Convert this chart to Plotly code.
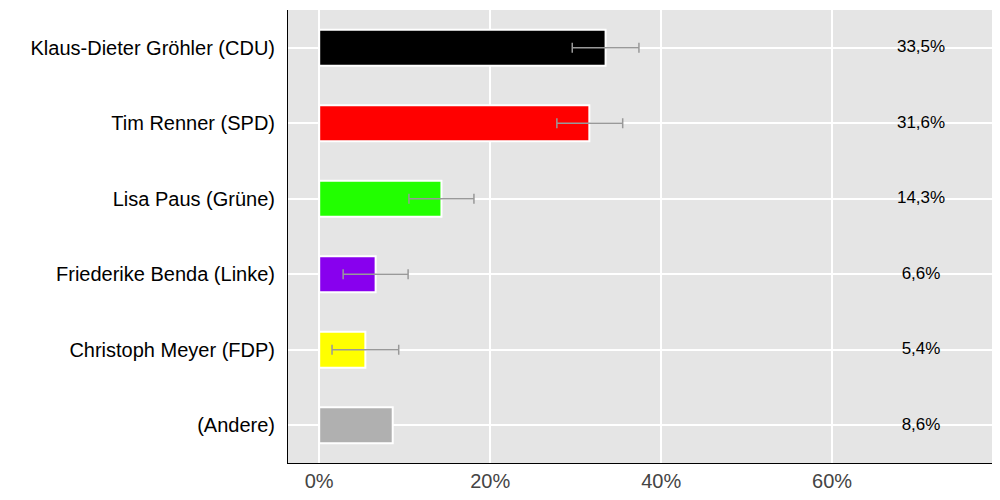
import plotly.graph_objects as go

candidates = ["Klaus-Dieter Gröhler (CDU)", "Tim Renner (SPD)", "Lisa Paus (Grüne)",
              "Friederike Benda (Linke)", "Christoph Meyer (FDP)", "(Andere)"]
values = [33.5, 31.6, 14.3, 6.6, 5.4, 8.6]
err_low = [29.6, 27.8, 10.5, 2.8, 1.5, None]
err_high = [37.4, 35.5, 18.1, 10.4, 9.3, None]
colors = ["#000000", "#ff0000", "#22ff00", "#8800ee", "#ffff00", "#b0b0b0"]
labels = ["33,5%", "31,6%", "14,3%", "6,6%", "5,4%", "8,6%"]

plus = [(h - v) if h is not None else 0 for h, v in zip(err_high, values)]
minus = [(v - l) if l is not None else 0 for l, v in zip(err_low, values)]
has_err = [h is not None for h in err_high]

fig = go.Figure()
fig.add_trace(go.Bar(
    y=candidates, x=values, orientation="h", width=0.48,
    marker=dict(color=colors, line=dict(color="white", width=2)),
    hoverinfo="skip"))
fig.add_trace(go.Scatter(
    y=[c for c, e in zip(candidates, has_err) if e],
    x=[v for v, e in zip(values, has_err) if e],
    mode="markers", marker=dict(size=0.1, color="rgba(0,0,0,0)"),
    error_x=dict(type="data", symmetric=False,
                 array=[p for p, e in zip(plus, has_err) if e],
                 arrayminus=[m for m, e in zip(minus, has_err) if e],
                 color="#999999", thickness=1.5, width=5),
    hoverinfo="skip"))
fig.add_trace(go.Scatter(
    y=candidates, x=[70.4] * len(candidates), mode="text", text=labels,
    textfont=dict(size=17, color="black", family="Liberation Sans"),
    hoverinfo="skip"))

fig.update_layout(
    width=1000, height=500, showlegend=False,
    margin=dict(l=280, r=16, t=2, b=45),
    paper_bgcolor="white", plot_bgcolor="#e5e5e5",
    font=dict(family="Liberation Sans"),
    xaxis=dict(range=[-3.65, 78.7], tickvals=[0, 20, 40, 60],
               ticktext=["0%", "20%", "40%", "60%"], gridcolor="white", gridwidth=1.5,
               zeroline=False, showline=True, linecolor="black", linewidth=1,
               tickfont=dict(size=20, color="#444444"), ticks=""),
    yaxis=dict(autorange="reversed", categoryorder="array", categoryarray=candidates,
               gridcolor="white", gridwidth=1.5, showline=True, linecolor="black",
               linewidth=1, tickfont=dict(size=20, color="black"), ticks="",
               ticklabelstandoff=8),
)
fig.write_html("out.html")
